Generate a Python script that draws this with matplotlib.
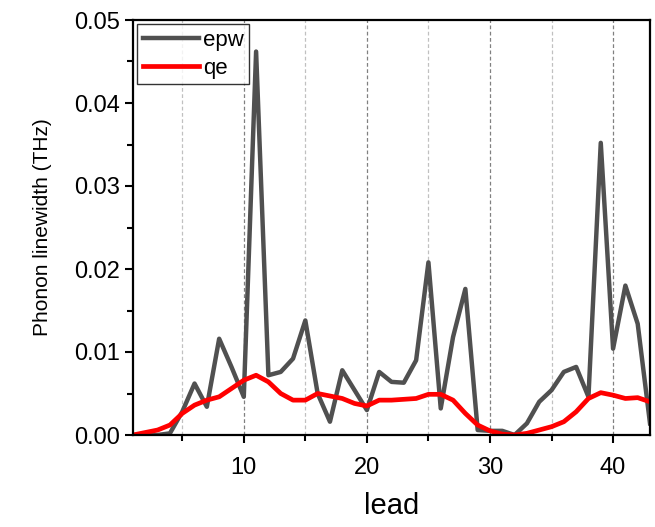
import matplotlib
matplotlib.use('Agg')
import matplotlib.pyplot as plt
from matplotlib.ticker import MultipleLocator, FormatStrFormatter

plt.rcParams['font.family'] = ['Liberation Sans', 'DejaVu Sans']

# lead index
lead = list(range(1, 44))

# phonon linewidth (THz)
epw = [0.0, 0.0, 0.0, 0.0002, 0.0028, 0.0062, 0.0034, 0.0116, 0.0082, 0.0046,
       0.0462, 0.0072, 0.0076, 0.0092, 0.0138, 0.0050, 0.0016, 0.0078, 0.0054, 0.0030,
       0.0076, 0.0064, 0.0063, 0.0090, 0.0208, 0.0032, 0.0118, 0.0176, 0.0006, 0.0005,
       0.0005, 0.0, 0.0014, 0.0040, 0.0054, 0.0076, 0.0082, 0.0046, 0.0352, 0.0104,
       0.0180, 0.0134, 0.0014]
qe = [0.0, 0.0003, 0.0006, 0.0012, 0.0026, 0.0036, 0.0042, 0.0046, 0.0056, 0.0066,
      0.0072, 0.0064, 0.0050, 0.0042, 0.0042, 0.0050, 0.0047, 0.0044, 0.0038, 0.0035,
      0.0042, 0.0042, 0.0043, 0.0044, 0.0049, 0.0049, 0.0042, 0.0026, 0.0012, 0.0005,
      0.0001, 0.0, 0.0002, 0.0006, 0.0010, 0.0016, 0.0028, 0.0044, 0.0051, 0.0048,
      0.0044, 0.0045, 0.0040]

fig = plt.figure(figsize=(6.55, 5.27), dpi=100)
ax = fig.add_axes([133 / 655, 1 - 435 / 527, 517 / 655, 415 / 527])

# vertical grid: dark dashes on major, light dashes on minor
for x in range(5, 44, 5):
    col = '#808080' if x % 10 == 0 else '#c0c0c0'
    ax.axvline(x, color=col, lw=0.9, ls=(0, (3, 2)), zorder=0)

ax.plot(lead, epw, color='#505050', lw=3.2, label='epw')
ax.plot(lead, qe, color='#ff0000', lw=3.4, label='qe')

ax.set_xlim(1, 43)
ax.set_ylim(0, 0.05)
ax.xaxis.set_major_locator(MultipleLocator(10))
ax.xaxis.set_minor_locator(MultipleLocator(5))
ax.yaxis.set_major_locator(MultipleLocator(0.01))
ax.yaxis.set_minor_locator(MultipleLocator(0.005))
ax.yaxis.set_major_formatter(FormatStrFormatter('%.2f'))

for s in ax.spines.values():
    s.set_linewidth(1.6)
ax.tick_params(which='major', direction='out', length=6, width=1.5, labelsize=17)
ax.tick_params(which='minor', direction='out', length=4, width=1.5)
ax.tick_params(axis='x', which='major', pad=10)

ax.set_xlabel('lead', fontsize=21, labelpad=9)
ax.set_ylabel('Phonon linewidth (THz)', fontsize=15, labelpad=16)

leg = ax.legend(loc='upper left', fontsize=16, frameon=True, fancybox=False,
                edgecolor='black', handlelength=2.5, handletextpad=0.2,
                borderaxespad=0.2, borderpad=0.25, labelspacing=0.3)
leg.get_frame().set_linewidth(1.0)

fig.savefig('out.png', dpi=100)
plt.close(fig)
